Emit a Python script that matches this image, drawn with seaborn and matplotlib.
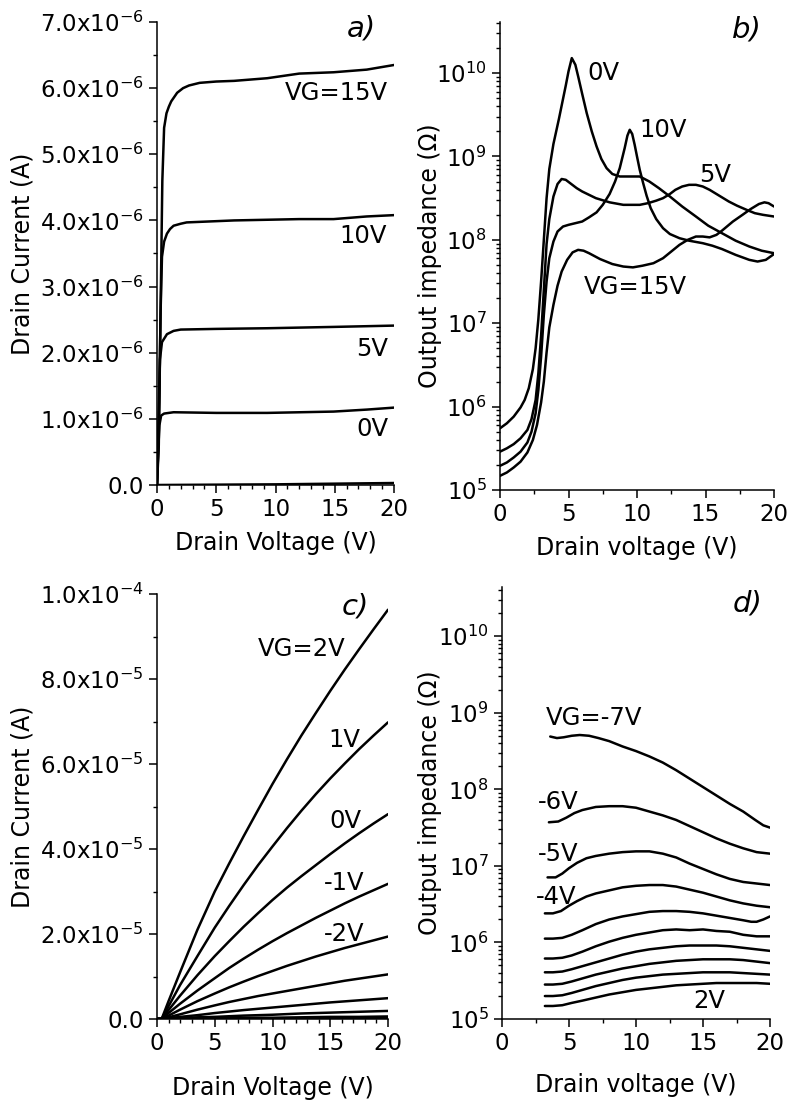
import numpy as np
import pandas as pd
import matplotlib
matplotlib.use("Agg")
import matplotlib.pyplot as plt
import matplotlib.ticker as mticker
import seaborn as sns

# ---------------- a) output curves, drain current in uA ----------------
a_15_v = [0, 0.15, 0.3, 0.45, 0.6, 0.8, 1.0, 1.2, 1.7, 2.2, 2.7, 3.6, 5.0, 6.5, 9.3, 12.0, 14.9, 17.7, 20.0]
a_15_i = [0, 0.6, 2.6, 4.6, 5.4, 5.62, 5.72, 5.8, 5.93, 6.0, 6.04, 6.08, 6.1, 6.11, 6.15, 6.22, 6.24, 6.28, 6.35]
a_10_v = [0, 0.15, 0.3, 0.42, 0.6, 0.84, 1.1, 1.4, 2.0, 2.5, 6.5, 12.0, 14.9, 17.7, 20.0]
a_10_i = [0, 0.8, 2.6, 3.45, 3.68, 3.8, 3.87, 3.92, 3.95, 3.97, 4.0, 4.02, 4.02, 4.06, 4.08]
a_5_v = [0, 0.12, 0.25, 0.42, 0.84, 1.4, 2.0, 5.0, 9.3, 14.9, 20.0]
a_5_i = [0, 0.9, 1.9, 2.16, 2.28, 2.33, 2.35, 2.36, 2.37, 2.39, 2.41]
a_0_v = [0, 0.1, 0.2, 0.35, 0.6, 1.4, 5.0, 9.3, 14.9, 17.7, 20.0]
a_0_i = [0, 0.5, 0.9, 1.05, 1.08, 1.1, 1.09, 1.09, 1.11, 1.14, 1.17]
a_m5_v = [0, 5, 10, 15, 20]
a_m5_i = [0, 0.005, 0.01, 0.02, 0.03]

# ---------------- b) output impedance, log10(ohm) ----------------
b_0_v = [0, 0.5, 1.0, 1.5, 1.8, 2.1, 2.4, 2.6, 2.8, 3.0, 3.2, 3.4, 3.6, 3.9, 4.3, 4.8, 5.0, 5.24,
         5.5, 5.72, 6.0, 6.33, 6.7, 7.05, 7.4, 7.78, 8.2, 8.74, 9.5, 10.2, 10.9, 11.6, 12.4,
         13.3, 14.3, 15.2, 16.2, 17.2, 18.2, 19.1, 20]
b_0_log = [5.74, 5.8, 5.88, 5.99, 6.08, 6.22, 6.45, 6.7, 7.05, 7.5, 8.0, 8.5, 8.85, 9.15, 9.45,
           9.85, 10.02, 10.18, 10.1, 9.95, 9.75, 9.52, 9.3, 9.12, 8.97, 8.86, 8.79, 8.76, 8.76,
           8.76, 8.7, 8.62, 8.52, 8.4, 8.28, 8.17, 8.08, 7.99, 7.92, 7.87, 7.84]
b_5_v = [0, 0.5, 1.0, 1.5, 2.0, 2.3, 2.6, 2.8, 3.0, 3.2, 3.4, 3.6, 3.9, 4.2, 4.5, 4.8, 5.2, 5.6,
         6.0, 6.5, 7.0, 8.0, 9.0, 10.2, 10.8, 11.4, 11.9, 12.4, 12.8, 13.3, 13.8, 14.3, 14.8,
         15.3, 15.7, 16.2, 16.7, 17.3, 18.0, 18.6, 19.2, 20]
b_5_log = [5.46, 5.5, 5.55, 5.62, 5.72, 5.85, 6.08, 6.4, 6.85, 7.4, 7.95, 8.25, 8.52, 8.67, 8.73,
           8.72, 8.67, 8.62, 8.58, 8.54, 8.5, 8.45, 8.42, 8.42, 8.44, 8.47, 8.5, 8.55, 8.6, 8.64,
           8.66, 8.66, 8.64, 8.6, 8.56, 8.51, 8.46, 8.41, 8.36, 8.32, 8.3, 8.28]
b_10_v = [0, 0.5, 1.0, 1.5, 2.0, 2.3, 2.6, 2.8, 3.0, 3.2, 3.4, 3.6, 3.9, 4.2, 4.6, 5.0, 5.5, 6.0,
          6.5, 7.05, 7.5, 8.0, 8.4, 8.74, 9.1, 9.3, 9.47, 9.65, 9.83, 10.0, 10.2, 10.45, 10.7,
          11.0, 11.4, 11.9, 12.4, 13.1, 13.8, 14.8, 15.5, 16.2, 17.2, 18.2, 18.8, 19.4, 20]
b_10_log = [5.29, 5.33, 5.39, 5.46, 5.57, 5.7, 5.92, 6.2, 6.6, 7.1, 7.5, 7.78, 7.98, 8.1, 8.16,
            8.18, 8.2, 8.22, 8.27, 8.33, 8.42, 8.55, 8.7, 8.86, 9.1, 9.25, 9.32, 9.27, 9.14, 9.0,
            8.84, 8.68, 8.53, 8.38, 8.25, 8.14, 8.07, 8.02, 7.99, 7.96, 7.93, 7.89, 7.82, 7.76,
            7.74, 7.76, 7.83]
b_15_v = [0, 0.5, 1.0, 1.5, 2.0, 2.4, 2.7, 3.0, 3.2, 3.4, 3.6, 3.9, 4.2, 4.5, 4.9, 5.3, 5.7, 6.1,
          6.5, 7.3, 8.2, 9.0, 9.7, 10.4, 11.2, 11.9, 12.5, 13.1, 13.7, 14.3, 14.8, 15.3, 15.8,
          16.2, 17.0, 17.7, 18.3, 18.9, 19.3, 19.6, 20]
b_15_log = [5.17, 5.21, 5.27, 5.34, 5.45, 5.6, 5.78, 6.05, 6.3, 6.65, 6.95, 7.22, 7.45, 7.62,
            7.76, 7.85, 7.88, 7.87, 7.84, 7.77, 7.71, 7.68, 7.67, 7.69, 7.72, 7.78, 7.86, 7.94,
            8.0, 8.04, 8.04, 8.03, 8.06, 8.11, 8.22, 8.3, 8.37, 8.43, 8.45, 8.44, 8.4]

# ---------------- c) output curves, drain current in 1e-5 A ----------------
c_v = [0, 0.4, 1, 2, 3.5, 5, 6.25, 7.5, 8.75, 10, 11.25, 12.5, 13.75, 15, 16.25, 17.5, 18.75, 20]
c_2 = [0, 0, 0.42, 1.1, 2.1, 3.0, 3.66, 4.3, 4.92, 5.53, 6.11, 6.67, 7.2, 7.72, 8.22, 8.7, 9.17, 9.63]
c_1 = [0, 0, 0.3, 0.8, 1.48, 2.15, 2.66, 3.15, 3.62, 4.06, 4.49, 4.9, 5.29, 5.66, 6.01, 6.35, 6.67, 6.98]
c_0 = [0, 0, 0.21, 0.55, 1.03, 1.48, 1.83, 2.17, 2.49, 2.8, 3.09, 3.36, 3.62, 3.88, 4.13, 4.37, 4.6, 4.82]
c_m1 = [0, 0, 0.14, 0.36, 0.67, 0.96, 1.2, 1.42, 1.63, 1.83, 2.02, 2.2, 2.38, 2.55, 2.72, 2.88, 3.03, 3.18]
c_m2 = [0, 0, 0.08, 0.22, 0.42, 0.6, 0.745, 0.88, 1.01, 1.13, 1.25, 1.36, 1.47, 1.57, 1.67, 1.76, 1.85, 1.94]
c_m3 = [0, 0, 0.04, 0.11, 0.22, 0.32, 0.4, 0.47, 0.54, 0.6, 0.66, 0.72, 0.78, 0.84, 0.9, 0.95, 1.0, 1.05]
c_m4 = [0, 0, 0.02, 0.05, 0.09, 0.14, 0.175, 0.21, 0.24, 0.27, 0.3, 0.33, 0.36, 0.39, 0.415, 0.44, 0.465, 0.49]
c_m5 = [0, 0, 0.01, 0.02, 0.04, 0.05, 0.065, 0.08, 0.09, 0.1, 0.115, 0.13, 0.14, 0.15, 0.16, 0.17, 0.18, 0.19]
c_m6 = [0, 0, 0, 0.01, 0.01, 0.02, 0.025, 0.03, 0.03, 0.03, 0.035, 0.04, 0.045, 0.05, 0.05, 0.05, 0.055, 0.06]
c_m7 = [0, 0, 0, 0, 0, 0.005, 0.006, 0.008, 0.009, 0.01, 0.011, 0.012, 0.013, 0.015, 0.016, 0.018, 0.019, 0.02]

# ---------------- d) output impedance, log10(ohm) ----------------
d_m7_v = [3.6, 4.1, 4.6, 5.2, 5.8, 6.5, 7.2, 8.0, 9.0, 10.0, 11.0, 12.0, 13.0, 14.0, 15.0, 16.0,
          17.0, 18.0, 18.9, 19.5, 20.0]
d_m7_log = [8.69, 8.67, 8.68, 8.7, 8.71, 8.7, 8.67, 8.63, 8.56, 8.5, 8.43, 8.35, 8.25, 8.14, 8.03,
            7.92, 7.81, 7.71, 7.6, 7.53, 7.5]
d_m6_v = [3.5, 4.2, 4.8, 5.4, 6.0, 7.0, 8.0, 9.0, 10.0, 11.0, 12.0, 13.0, 14.0, 15.0, 16.0, 17.0,
          18.0, 19.0, 20.0]
d_m6_log = [7.57, 7.58, 7.63, 7.69, 7.73, 7.77, 7.78, 7.78, 7.76, 7.71, 7.66, 7.6, 7.52, 7.44, 7.36,
            7.29, 7.23, 7.18, 7.16]
d_m5_v = [3.4, 4.0, 4.5, 5.0, 5.6, 6.3, 7.0, 8.0, 9.0, 10.0, 11.0, 12.0, 13.0, 14.0, 15.0, 16.0,
          17.0, 18.0, 19.0, 20.0]
d_m5_log = [6.85, 6.85, 6.9, 6.97, 7.04, 7.1, 7.13, 7.16, 7.18, 7.19, 7.19, 7.16, 7.11, 7.03, 6.96,
            6.89, 6.83, 6.79, 6.77, 6.75]
d_m4_v = [3.2, 3.8, 4.4, 5.0, 5.6, 6.3, 7.0, 8.0, 9.0, 10.0, 11.0, 12.0, 13.0, 14.0, 15.0, 16.0,
          17.0, 18.0, 19.0, 20.0]
d_m4_log = [6.38, 6.38, 6.41, 6.48, 6.54, 6.6, 6.64, 6.68, 6.72, 6.74, 6.75, 6.75, 6.73, 6.69, 6.65,
            6.6, 6.55, 6.51, 6.48, 6.46]
d_m3_v = [3.2, 3.8, 4.5, 5.2, 6.0, 7.0, 8.0, 9.0, 10.0, 11.0, 12.0, 13.0, 14.0, 15.0, 16.0, 17.0,
          18.0, 18.6, 19.0, 19.5, 20.0]
d_m3_log = [6.05, 6.05, 6.06, 6.1, 6.16, 6.24, 6.3, 6.34, 6.37, 6.4, 6.41, 6.41, 6.4, 6.38, 6.35,
            6.32, 6.29, 6.27, 6.27, 6.3, 6.34]
d_v = [3.2, 3.8, 4.5, 5.2, 6.0, 7.0, 8.0, 9.0, 10.0, 11.0, 12.0, 13.0, 14.0, 15.0, 16.0, 17.0,
       18.0, 19.0, 20.0]
d_m2_log = [5.79, 5.79, 5.8, 5.83, 5.88, 5.95, 6.01, 6.06, 6.1, 6.13, 6.16, 6.17, 6.16, 6.17, 6.15,
            6.14, 6.1, 6.08, 6.08]
d_m1_log = [5.61, 5.61, 5.62, 5.65, 5.69, 5.74, 5.79, 5.84, 5.88, 5.91, 5.93, 5.95, 5.96, 5.96, 5.96,
            5.95, 5.93, 5.91, 5.89]
d_0_log = [5.45, 5.45, 5.46, 5.49, 5.53, 5.58, 5.62, 5.66, 5.69, 5.72, 5.74, 5.76, 5.77, 5.78, 5.78,
           5.78, 5.77, 5.75, 5.73]
d_1_log = [5.3, 5.3, 5.31, 5.34, 5.38, 5.43, 5.47, 5.51, 5.54, 5.56, 5.58, 5.59, 5.6, 5.61, 5.61,
           5.61, 5.6, 5.59, 5.58]
d_2_log = [5.17, 5.17, 5.18, 5.21, 5.24, 5.28, 5.32, 5.35, 5.38, 5.4, 5.42, 5.44, 5.45, 5.46, 5.47,
           5.47, 5.47, 5.47, 5.46]


def long_df(series, scale=1.0, log=False):
    frames = []
    for name, v, y in series:
        y = np.asarray(y, dtype=float)
        y = 10 ** y if log else y * scale
        frames.append(pd.DataFrame({"V": v, "Y": y, "VG": name}))
    return pd.concat(frames, ignore_index=True)


df_a = long_df([("15V", a_15_v, a_15_i), ("10V", a_10_v, a_10_i), ("5V", a_5_v, a_5_i),
                ("0V", a_0_v, a_0_i), ("-5V", a_m5_v, a_m5_i)], scale=1e-6)
df_b = long_df([("0V", b_0_v, b_0_log), ("5V", b_5_v, b_5_log), ("10V", b_10_v, b_10_log),
                ("15V", b_15_v, b_15_log)], log=True)
df_c = long_df([(n, c_v, y) for n, y in [("2V", c_2), ("1V", c_1), ("0V", c_0), ("-1V", c_m1),
                                          ("-2V", c_m2), ("-3V", c_m3), ("-4V", c_m4),
                                          ("-5V", c_m5), ("-6V", c_m6), ("-7V", c_m7)]], scale=1e-5)
df_d = long_df([("-7V", d_m7_v, d_m7_log), ("-6V", d_m6_v, d_m6_log), ("-5V", d_m5_v, d_m5_log),
                ("-4V", d_m4_v, d_m4_log), ("-3V", d_m3_v, d_m3_log), ("-2V", d_v, d_m2_log),
                ("-1V", d_v, d_m1_log), ("0V", d_v, d_0_log), ("1V", d_v, d_1_log),
                ("2V", d_v, d_2_log)], log=True)

sns.set_style("ticks")
plt.rcParams["font.family"] = ["DejaVu Sans"]
plt.rcParams["mathtext.default"] = "regular"
plt.rcParams["text.color"] = "black"
plt.rcParams["axes.labelcolor"] = "black"
plt.rcParams["axes.edgecolor"] = "black"
plt.rcParams["axes.linewidth"] = 1.1
for k in ("xtick", "ytick"):
    plt.rcParams[k + ".color"] = "black"
    plt.rcParams[k + ".major.width"] = 1.1
    plt.rcParams[k + ".minor.width"] = 1.0
    plt.rcParams[k + ".major.size"] = 5.5
    plt.rcParams[k + ".minor.size"] = 3.2
    plt.rcParams[k + ".direction"] = "out"

TICK_FS = 16.5
LAB_FS = 17
ANN_FS = 17.5

fig = plt.figure(figsize=(7.92, 11.2), dpi=100)
W, H = 792, 1120


def add_ax(left, right, top, bottom):
    return fig.add_axes([left / W, 1 - bottom / H, (right - left) / W, (bottom - top) / H])


ax_a = add_ax(157, 394, 22, 485)
ax_b = add_ax(500, 774, 22, 490)
ax_c = add_ax(157, 388, 594, 1019)
ax_d = add_ax(502, 770, 587, 1019)


def sci_fmt(v, pos):
    if abs(v) < 1e-15:
        return "0.0"
    e = int(np.floor(np.log10(abs(v)) + 1e-9))
    return r"$\mathregular{%.1fx10^{%d}}$" % (v / 10 ** e, e)


for ax, df in [(ax_a, df_a), (ax_b, df_b), (ax_c, df_c), (ax_d, df_d)]:
    sns.lineplot(data=df, x="V", y="Y", units="VG", estimator=None, sort=False,
                 color="black", lw=1.8, ax=ax)
    sns.despine(ax=ax)
    ax.set_xlim(0, 20)
    ax.xaxis.set_major_locator(mticker.MultipleLocator(5))
    ax.tick_params(labelsize=TICK_FS, pad=4, colors="black")

for ax in (ax_a, ax_c):
    ax.xaxis.set_minor_locator(mticker.MultipleLocator(1))
    ax.yaxis.set_major_formatter(mticker.FuncFormatter(sci_fmt))
    ax.set_ylabel("Drain Current (A)", fontsize=LAB_FS, labelpad=4)
ax_a.set_xlabel("Drain Voltage (V)", fontsize=LAB_FS, labelpad=7)
ax_c.set_xlabel("Drain Voltage (V)", fontsize=LAB_FS, labelpad=15)

ax_a.set_ylim(0, 7e-6)
ax_a.yaxis.set_major_locator(mticker.MultipleLocator(1e-6))
ax_a.yaxis.set_minor_locator(mticker.MultipleLocator(0.5e-6))
ax_c.set_ylim(0, 1e-4)
ax_c.yaxis.set_major_locator(mticker.MultipleLocator(2e-5))
ax_c.yaxis.set_minor_locator(mticker.MultipleLocator(1e-5))

for ax, top in ((ax_b, 4.1e10), (ax_d, 4.4e10)):
    ax.set_yscale("log")
    ax.set_ylim(1e5, top)
    ax.yaxis.set_major_locator(mticker.LogLocator(base=10, numticks=12))
    ax.yaxis.set_minor_locator(mticker.LogLocator(base=10, subs=np.arange(2, 10), numticks=12))
    ax.yaxis.set_minor_formatter(mticker.NullFormatter())
    ax.xaxis.set_minor_locator(mticker.MultipleLocator(2.5))
ax_b.set_ylabel("Output impedance (\u03a9)", fontsize=LAB_FS, labelpad=-4)
ax_d.set_ylabel("Output impedance (\u03a9)", fontsize=LAB_FS, labelpad=-3)
ax_b.set_xlabel("Drain voltage (V)", fontsize=LAB_FS, labelpad=7)
ax_d.set_xlabel("Drain voltage (V)", fontsize=LAB_FS, labelpad=13)

# curve labels
for x, y, s in [(19.5, 5.92e-6, "VG=15V"), (19.4, 3.76e-6, "10V"), (19.5, 2.05e-6, "5V"),
                (19.5, 0.84e-6, "0V")]:
    ax_a.text(x, y, s, ha="right", va="center", fontsize=ANN_FS)
for x, y, s in [(6.35, 1e10, "0V"), (10.2, 10 ** 9.32, "10V"), (14.5, 10 ** 8.78, "5V"),
                (6.1, 10 ** 7.44, "VG=15V")]:
    ax_b.text(x, y, s, ha="left", va="center", fontsize=ANN_FS)
for x, y, s in [(16.3, 8.71e-5, "VG=2V"), (17.6, 6.57e-5, "1V"), (17.7, 4.66e-5, "0V"),
                (18.0, 3.19e-5, "-1V"), (18.0, 2.0e-5, "-2V")]:
    ax_c.text(x, y, s, ha="right", va="center", fontsize=ANN_FS)
for x, y, s in [(3.3, 10 ** 8.93, "VG=-7V"), (2.7, 10 ** 7.83, "-6V"), (2.7, 10 ** 7.15, "-5V"),
                (2.5, 10 ** 6.6, "-4V"), (14.3, 10 ** 5.24, "2V")]:
    ax_d.text(x, y, s, ha="left", va="center", fontsize=ANN_FS)

# panel letters
for ax, x, y, s in [(ax_a, 0.926, 0.985, "a)"), (ax_b, 0.954, 0.985, "b)"),
                    (ax_c, 0.92, 0.97, "c)"), (ax_d, 0.971, 0.961, "d)")]:
    ax.text(x, y, s, transform=ax.transAxes, ha="right", va="center",
            fontsize=21, style="italic")

fig.savefig("out.png", dpi=100)
